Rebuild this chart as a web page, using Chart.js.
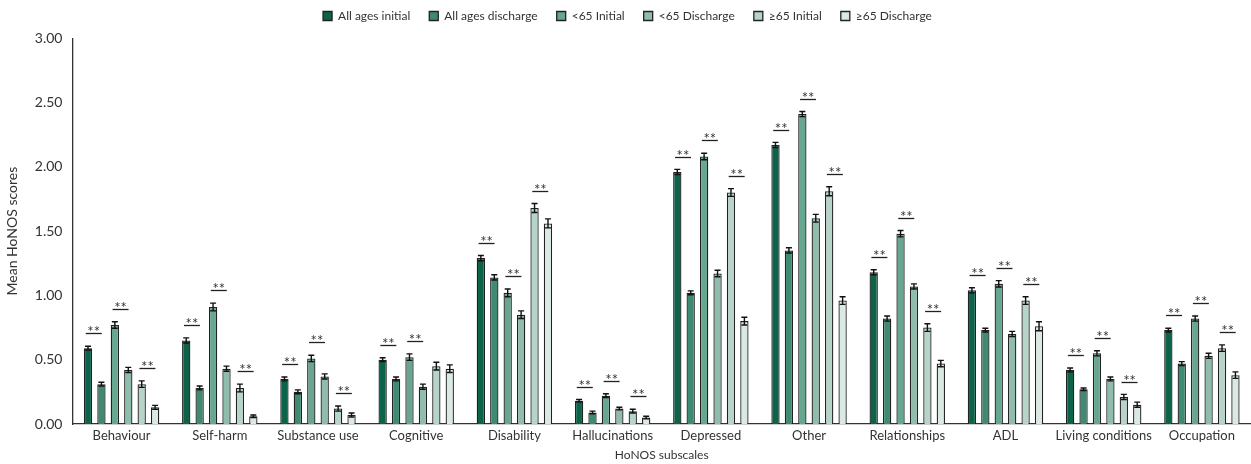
<!DOCTYPE html>
<html>
<head>
<meta charset="utf-8">
<script src="https://cdn.jsdelivr.net/npm/chart.js@4/dist/chart.umd.min.js"></script>
<style>
  html, body { margin: 0; padding: 0; background: #fff; }
  #wrap { width: 1251px; height: 464px; }
</style>
</head>
<body>
<div id="wrap"><canvas id="chart"></canvas></div>
<script>
const subscales = ["Behaviour", "Self-harm", "Substance use", "Cognitive", "Disability", "Hallucinations",
  "Depressed", "Other", "Relationships", "ADL", "Living conditions", "Occupation"];

const allInitial   = [0.59, 0.65, 0.35, 0.50, 1.29, 0.18, 1.96, 2.17, 1.18, 1.04, 0.42, 0.73];
const allDischarge = [0.31, 0.28, 0.25, 0.35, 1.14, 0.09, 1.02, 1.35, 0.82, 0.73, 0.27, 0.47];
const u65Initial   = [0.77, 0.91, 0.51, 0.52, 1.02, 0.22, 2.08, 2.41, 1.48, 1.09, 0.55, 0.82];
const u65Discharge = [0.42, 0.43, 0.37, 0.29, 0.85, 0.12, 1.17, 1.60, 1.07, 0.70, 0.35, 0.53];
const o65Initial   = [0.31, 0.28, 0.12, 0.45, 1.68, 0.10, 1.80, 1.81, 0.75, 0.96, 0.21, 0.59];
const o65Discharge = [0.13, 0.06, 0.07, 0.43, 1.56, 0.05, 0.80, 0.96, 0.47, 0.76, 0.15, 0.38];

const allInitialErr   = [0.015, 0.02, 0.015, 0.015, 0.02, 0.01, 0.02, 0.02, 0.02, 0.02, 0.015, 0.015];
const allDischargeErr = [0.015, 0.015, 0.015, 0.015, 0.02, 0.01, 0.015, 0.02, 0.02, 0.015, 0.01, 0.015];
const u65InitialErr   = [0.025, 0.03, 0.025, 0.025, 0.03, 0.015, 0.025, 0.02, 0.025, 0.025, 0.02, 0.02];
const u65DischargeErr = [0.02, 0.02, 0.02, 0.02, 0.03, 0.01, 0.025, 0.03, 0.02, 0.02, 0.015, 0.02];
const o65InitialErr   = [0.025, 0.03, 0.02, 0.03, 0.035, 0.015, 0.03, 0.035, 0.03, 0.03, 0.02, 0.025];
const o65DischargeErr = [0.015, 0.01, 0.015, 0.03, 0.035, 0.01, 0.03, 0.03, 0.025, 0.035, 0.02, 0.025];

// significance (**) for pairs: all ages, <65, >=65
const sigAll = [1, 1, 1, 1, 1, 1, 1, 1, 1, 1, 1, 1];
const sigU65 = [1, 1, 1, 1, 1, 1, 1, 1, 1, 1, 1, 1];
const sigO65 = [1, 1, 1, 0, 1, 1, 1, 1, 1, 1, 1, 1];

const seriesNames = ["All ages initial", "All ages discharge", "<65 Initial", "<65 Discharge", "\u226565 Initial", "\u226565 Discharge"];
const seriesColors = ["#0b634a", "#3f8a72", "#67a68f", "#8fbcab", "#b6d4c8", "#dbe9e3"];
const seriesValues = [allInitial, allDischarge, u65Initial, u65Discharge, o65Initial, o65Discharge];
const seriesErrors = [allInitialErr, allDischargeErr, u65InitialErr, u65DischargeErr, o65InitialErr, o65DischargeErr];
const sigPairs = [sigAll, sigU65, sigO65];

const fontFamily = "Lato, 'Open Sans', sans-serif";

const errorBars = {
  id: "errorBars",
  afterDatasetsDraw(chart) {
    const ctx = chart.ctx;
    const y = chart.scales.y;
    ctx.save();
    ctx.strokeStyle = "#111";
    ctx.lineWidth = 1.4;
    chart.data.datasets.forEach((ds, i) => {
      const meta = chart.getDatasetMeta(i);
      meta.data.forEach((bar, j) => {
        const v = ds.data[j];
        const e = seriesErrors[i][j];
        const top = y.getPixelForValue(v + e);
        const bot = y.getPixelForValue(v - e);
        ctx.beginPath();
        ctx.moveTo(bar.x, top); ctx.lineTo(bar.x, bot);
        ctx.moveTo(bar.x - 3, top); ctx.lineTo(bar.x + 3, top);
        ctx.moveTo(bar.x - 3, bot); ctx.lineTo(bar.x + 3, bot);
        ctx.stroke();
      });
    });
    ctx.restore();
  }
};

const sigMarks = {
  id: "sigMarks",
  afterDatasetsDraw(chart) {
    const ctx = chart.ctx;
    const y = chart.scales.y;
    ctx.save();
    ctx.strokeStyle = "#222";
    ctx.fillStyle = "#333";
    ctx.lineWidth = 1.3;
    ctx.font = "15px " + fontFamily;
    ctx.textAlign = "center";
    ctx.textBaseline = "alphabetic";
    sigPairs.forEach((flags, p) => {
      const a = 2 * p, b = 2 * p + 1;
      const ma = chart.getDatasetMeta(a), mb = chart.getDatasetMeta(b);
      flags.forEach((f, j) => {
        if (!f) return;
        const top = Math.max(seriesValues[a][j] + seriesErrors[a][j], seriesValues[b][j] + seriesErrors[b][j]);
        const ly = Math.round(y.getPixelForValue(top + 0.1)) + 0.5;
        const mid = (ma.data[j].x + mb.data[j].x) / 2 - 1;
        ctx.beginPath();
        ctx.moveTo(mid - 8, ly); ctx.lineTo(mid + 8, ly);
        ctx.stroke();
        ctx.fillText("**", mid, ly + 3);
      });
    });
    ctx.restore();
  }
};

new Chart(document.getElementById("chart"), {
  type: "bar",
  data: {
    labels: subscales,
    datasets: seriesNames.map((name, i) => ({
      label: name,
      data: seriesValues[i],
      backgroundColor: seriesColors[i],
      borderColor: "#222",
      borderWidth: 1.3,
      categoryPercentage: 0.82,
      barPercentage: 0.62,
    })),
  },
  options: {
    responsive: true,
    maintainAspectRatio: false,
    animation: false,
    layout: { padding: { top: -9, right: 0, left: 4, bottom: 2 } },
    plugins: {
      legend: {
        position: "top",
        labels: {
          boxWidth: 9,
          boxHeight: 9,
          padding: 19,
          color: "#333",
          font: { family: fontFamily, size: 12 },
        },
      },
      // empty title used as a spacer below the legend
      title: {
        display: true,
        text: "",
        weight: 500,
        font: { size: 1 },
        padding: { top: 0, bottom: 5 },
      },
      tooltip: { enabled: false },
    },
    scales: {
      x: {
        grid: { display: false, drawTicks: false },
        border: { color: "#333", width: 1.3 },
        ticks: { color: "#333", font: { family: fontFamily, size: 13 }, padding: 4, maxRotation: 0, minRotation: 0, autoSkip: false },
        title: { display: true, text: "HoNOS subscales", color: "#333", font: { family: fontFamily, size: 12 }, padding: { top: 0, bottom: 0 } },
      },
      y: {
        min: 0,
        max: 3,
        grid: { display: false, drawTicks: false },
        border: { color: "#333", width: 1.3 },
        ticks: {
          stepSize: 0.5,
          color: "#333",
          padding: 10,
          font: { family: fontFamily, size: 14 },
          callback: (v) => v.toFixed(2),
        },
        title: { display: true, text: "Mean HoNOS scores", color: "#333", font: { family: fontFamily, size: 14 }, padding: { top: 0, bottom: 4 } },
      },
    },
  },
  plugins: [errorBars, sigMarks],
});
</script>
</body>
</html>
